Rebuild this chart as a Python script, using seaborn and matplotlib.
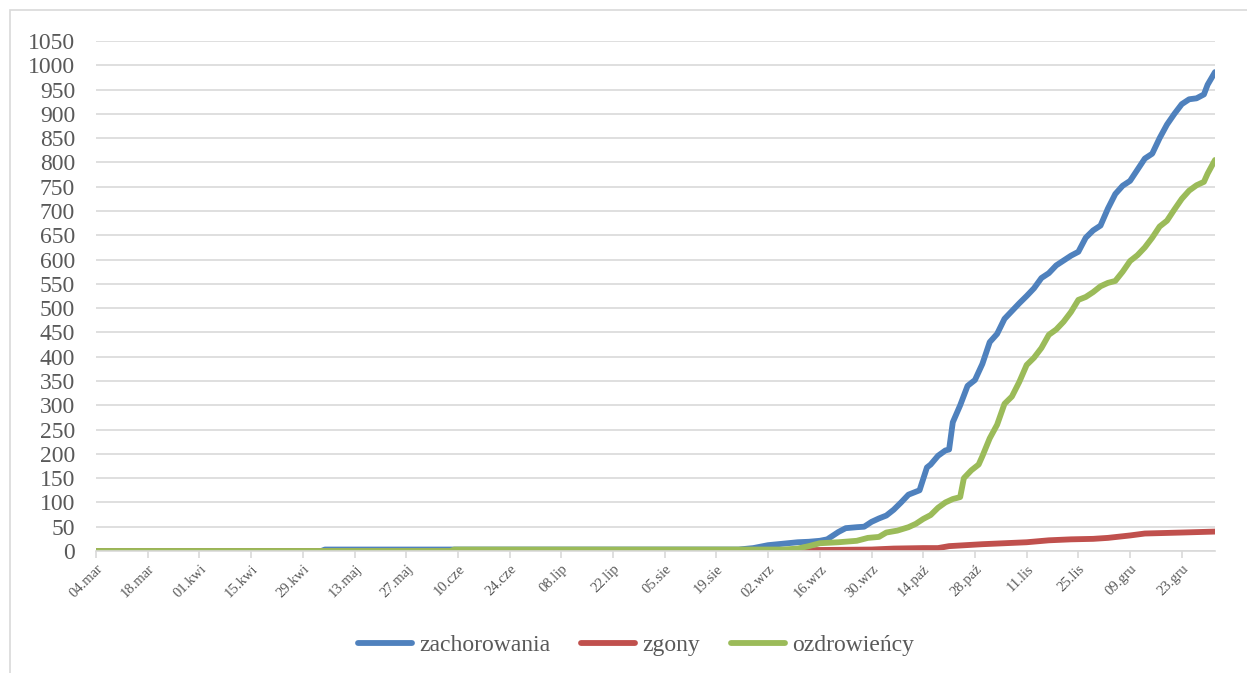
import pandas as pd
import seaborn as sns
import matplotlib.pyplot as plt
from matplotlib.lines import Line2D
from matplotlib.patches import Rectangle

# Values (cumulative counts)
zach_dates = [
    "2020-03-04", "2020-05-04", "2020-05-05", "2020-08-25", "2020-08-29", "2020-09-02",
    "2020-09-06", "2020-09-10", "2020-09-13", "2020-09-16", "2020-09-18", "2020-09-21",
    "2020-09-23", "2020-09-26", "2020-09-28", "2020-09-30", "2020-10-02", "2020-10-04",
    "2020-10-06", "2020-10-08", "2020-10-10", "2020-10-13", "2020-10-15", "2020-10-16",
    "2020-10-18", "2020-10-20", "2020-10-21", "2020-10-22", "2020-10-24", "2020-10-26",
    "2020-10-28", "2020-10-30", "2020-11-01", "2020-11-03", "2020-11-05", "2020-11-07",
    "2020-11-09", "2020-11-11", "2020-11-13", "2020-11-15", "2020-11-17", "2020-11-19",
    "2020-11-21", "2020-11-23", "2020-11-25", "2020-11-27", "2020-11-29", "2020-12-01",
    "2020-12-03", "2020-12-05", "2020-12-07", "2020-12-09", "2020-12-11", "2020-12-13",
    "2020-12-15", "2020-12-17", "2020-12-19", "2020-12-21", "2020-12-23", "2020-12-25",
    "2020-12-27", "2020-12-29", "2020-12-30", "2021-01-01",
]
zach_values = [
    0, 0, 3, 3, 6, 12,
    15, 18, 19, 21, 24, 39,
    47, 49, 50, 60, 67, 73,
    85, 100, 116, 125, 172, 178,
    196, 207, 209, 265, 300, 340,
    352, 385, 430, 447, 478, 494,
    510, 525, 541, 562, 572, 588,
    598, 608, 616, 645, 660, 670,
    705, 735, 752, 762, 785, 808,
    818, 850, 878, 900, 920, 930,
    932, 940, 960, 986,
]

zgony_dates = [
    "2020-03-04", "2020-09-10", "2020-09-15", "2020-09-30", "2020-10-06", "2020-10-14",
    "2020-10-18", "2020-10-21", "2020-10-30", "2020-11-11", "2020-11-17", "2020-11-23",
    "2020-11-29", "2020-12-03", "2020-12-09", "2020-12-13", "2020-12-23", "2021-01-01",
]
zgony_values = [
    0, 0, 2, 3, 5, 6,
    6, 10, 14, 18, 22, 24,
    25, 27, 32, 36, 38, 40,
]

ozdr_dates = [
    "2020-03-04", "2020-06-08", "2020-06-09", "2020-09-06", "2020-09-10", "2020-09-13",
    "2020-09-16", "2020-09-21", "2020-09-26", "2020-09-29", "2020-10-02", "2020-10-04",
    "2020-10-07", "2020-10-10", "2020-10-12", "2020-10-14", "2020-10-16", "2020-10-18",
    "2020-10-20", "2020-10-22", "2020-10-24", "2020-10-25", "2020-10-27", "2020-10-29",
    "2020-10-30", "2020-11-01", "2020-11-03", "2020-11-05", "2020-11-07", "2020-11-09",
    "2020-11-11", "2020-11-13", "2020-11-15", "2020-11-17", "2020-11-19", "2020-11-21",
    "2020-11-23", "2020-11-25", "2020-11-27", "2020-11-29", "2020-12-01", "2020-12-03",
    "2020-12-05", "2020-12-07", "2020-12-09", "2020-12-11", "2020-12-13", "2020-12-15",
    "2020-12-17", "2020-12-19", "2020-12-21", "2020-12-23", "2020-12-25", "2020-12-27",
    "2020-12-29", "2020-12-30", "2021-01-01",
]
ozdr_values = [
    0, 0, 3, 3, 5, 10,
    16, 18, 21, 27, 29, 38,
    42, 49, 56, 66, 74, 89,
    100, 107, 111, 150, 166, 178,
    195, 232, 260, 303, 318, 348,
    383, 398, 418, 445, 456, 472,
    492, 517, 523, 533, 545, 552,
    556, 575, 597, 609, 625, 645,
    668, 680, 703, 725, 742, 753,
    760, 777, 805,
]

series_names = ["zachorowania", "zgony", "ozdrowieńcy"]
series_colors = ["#4F81BD", "#C0504D", "#9BBB59"]

tick_labels = [
    "04.mar", "18.mar", "01.kwi", "15.kwi", "29.kwi", "13.maj", "27.maj", "10.cze",
    "24.cze", "08.lip", "22.lip", "05.sie", "19.sie", "02.wrz", "16.wrz", "30.wrz",
    "14.paź", "28.paź", "11.lis", "25.lis", "09.gru", "23.gru",
]

# Build long table for seaborn
frames = []
for name, d, v in zip(series_names,
                      [zach_dates, zgony_dates, ozdr_dates],
                      [zach_values, zgony_values, ozdr_values]):
    frames.append(pd.DataFrame({"data": pd.to_datetime(d), "liczba": v, "seria": name}))
df = pd.concat(frames, ignore_index=True)

sns.set_theme(style="white")
plt.rcParams['font.family'] = ['Liberation Serif', 'DejaVu Serif']

fig = plt.figure(figsize=(12.47, 6.73), dpi=100)
ax = fig.add_axes([96 / 1247, 1 - 551 / 673, (1215 - 96) / 1247, 510 / 673])

sns.lineplot(data=df, x="data", y="liczba", hue="seria", hue_order=series_names,
             palette=series_colors, linewidth=4.2, ax=ax, legend=False,
             solid_capstyle="round", solid_joinstyle="round")

# axes look like an Excel chart
ax.set_xlim(pd.Timestamp("2020-03-04"), pd.Timestamp("2021-01-01"))
ax.set_ylim(0, 1050)
ax.set_yticks(range(0, 1051, 50))
ax.yaxis.grid(True, color="#D9D9D9", linewidth=1.2)
ax.set_axisbelow(True)
for s in ["top", "right", "left"]:
    ax.spines[s].set_visible(False)
ax.spines["bottom"].set_color("#D9D9D9")
ax.spines["bottom"].set_linewidth(1.2)

tick_pos = pd.date_range("2020-03-04", periods=len(tick_labels), freq="14D")
ax.set_xticks(tick_pos)
ax.set_xticklabels(tick_labels, rotation=45, ha="right", rotation_mode="anchor",
                   fontsize=10.5, color="#595959")
ax.tick_params(axis="x", bottom=True, length=5, width=1.2, color="#D9D9D9", pad=3)
ax.tick_params(axis="y", left=False, length=0, labelsize=17, labelcolor="#595959", pad=15)
ax.set_xlabel("")
ax.set_ylabel("")

# legend at the bottom
handles = [Line2D([0], [0], color=c, linewidth=4.2, solid_capstyle="round") for c in series_colors]
fig.legend(handles, series_names, loc="center", bbox_to_anchor=(0.51, 1 - 645 / 673),
           ncol=3, frameon=False, fontsize=17, handlelength=2.3, handletextpad=0.3,
           columnspacing=1.3, labelcolor="#595959")

# chart area border
fig.patches.append(Rectangle((10 / 1247, -0.02), 1.0, 1 - 10 / 673 + 0.02,
                             transform=fig.transFigure, fill=False,
                             edgecolor="#D9D9D9", linewidth=1.2))

fig.savefig("out.png", dpi=100)
